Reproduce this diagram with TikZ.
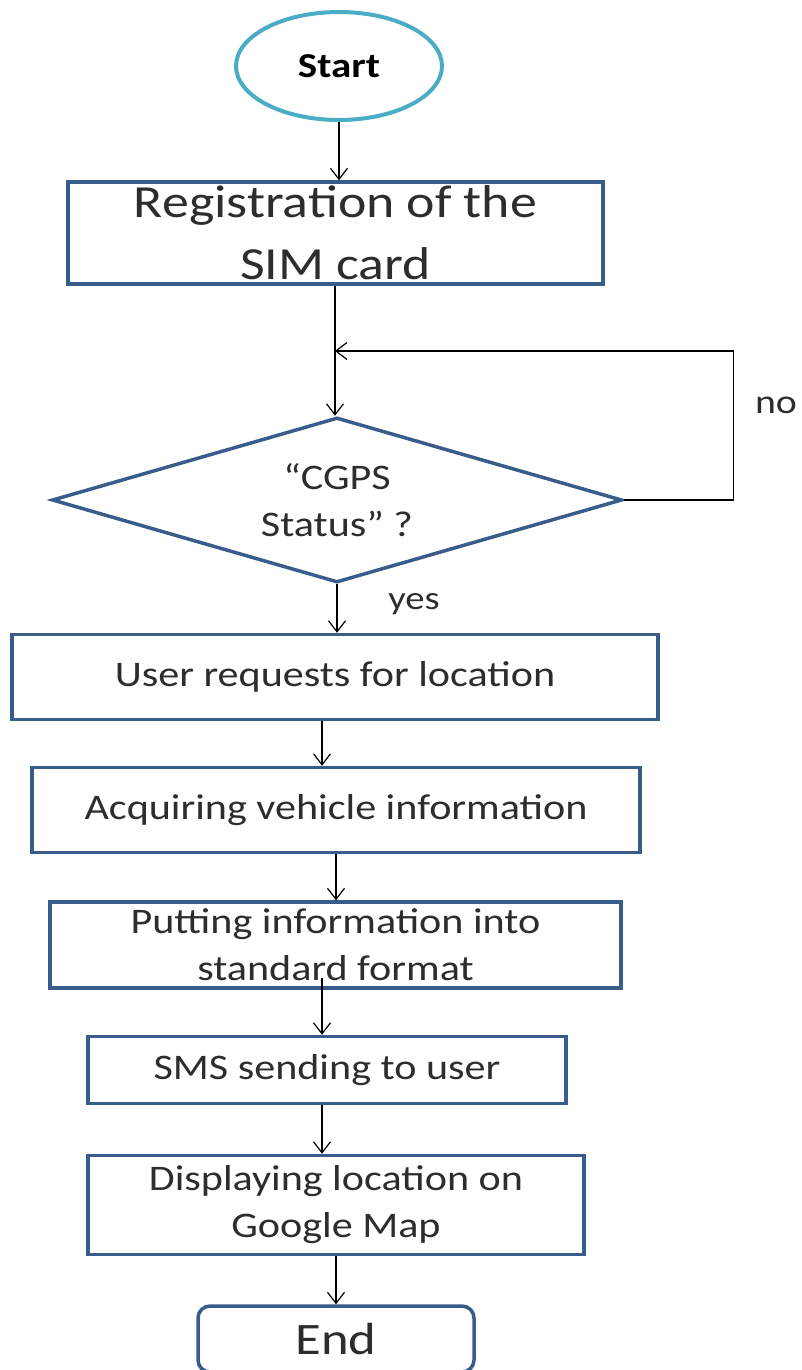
\documentclass[tikz,border=0pt]{standalone}
\usepackage{fontspec}
\setmainfont{Carlito}[FakeStretch=1.17]
\usetikzlibrary{
arrows.meta,
shapes.geometric,
positioning,
calc
}
\definecolor{boxblue}{RGB}{56,93,138}
\definecolor{startblue}{RGB}{75,172,198}
\definecolor{txtgray}{RGB}{45,45,45}

\begin{document}
\begin{tikzpicture}
[x=1pt, y=1pt,
block_normal/.style ={ rectangle, draw=boxblue, line width=3.5pt, fill=white, align=center, inner sep=0pt, text=txtgray, font=\fontsize{36}{47}\selectfont},
block_start/.style ={ ellipse, draw=startblue, line width=4pt, fill=white, inner sep=0pt, minimum width=206, minimum height=108, font=\fontsize{35}{40}\selectfont\bfseries},
block_end/.style ={ block_normal, rounded corners=12pt, font=\fontsize{45}{54}\selectfont},
decision/.style={diamond, draw=boxblue, line width=3.5pt, fill=white, align=center, inner sep=0pt, aspect=3.45, minimum width=570, minimum height=165, text=txtgray, font=\fontsize{36}{47}\selectfont},
line_inner/.style ={draw, line width=1.2pt, -{Straight Barb[length=11pt, width=17pt]}}
]

\useasboundingbox (0,0) rectangle (801,-1370);

% Knoten
\node [block_start] (start) at (339,-66) {Start};
\node [block_normal, minimum width=535, minimum height=102, font=\fontsize{46}{62}\selectfont] (reg) at (335.5,-233) {Registration of the\\SIM card};
\node [decision] (cgps) at (337,-500) {“CGPS\\Status” ?};
\node [block_normal, minimum width=646, minimum height=85] (request) at (335,-677) {User requests for location};
\node [block_normal, minimum width=608, minimum height=85] (acquire) at (336,-810) {Acquiring vehicle information};
\node [block_normal, minimum width=571, minimum height=86] (format) at (335.5,-945) {Putting information into\\standard format};
\node [block_normal, minimum width=478, minimum height=67] (sms) at (327,-1070) {SMS sending to user};
\node [block_normal, minimum width=496, minimum height=99] (display) at (336,-1205) {Displaying location on\\Google Map};
\node [block_end, minimum width=276, minimum height=66] (end) at (336,-1339) {End};

\node [text=txtgray, font=\fontsize{34}{40}\selectfont] (no) at (776,-405) {no};
\node [text=txtgray, font=\fontsize{33}{40}\selectfont] (yes) at (414,-604) {yes};

\coordinate (join) at (335,-351);
\coordinate (colA) at (322,0);

%%Pfeile%%%
\draw [line_inner] (start) -- (reg.north -| start.south);
\draw [line_inner] (reg.south -| join) -- (cgps.north -| join);
\draw [line_inner] (cgps.east) -- ++(110,0) |- (join);
\draw [line_inner] (cgps.south) -- (request.north -| cgps.south);
\draw [line_inner] (request.south -| colA) -- (acquire.north -| colA);
\draw [line_inner] (acquire.south) -- (format.north -| acquire.south);
\draw [line_inner] ($(format.south -| colA)+(0,12)$) -- (sms.north -| colA);
\draw [line_inner] (sms.south -| colA) -- (display.north -| colA);
\draw [line_inner] (display.south -| end.north) -- (end.north);

\end{tikzpicture}
\end{document}
